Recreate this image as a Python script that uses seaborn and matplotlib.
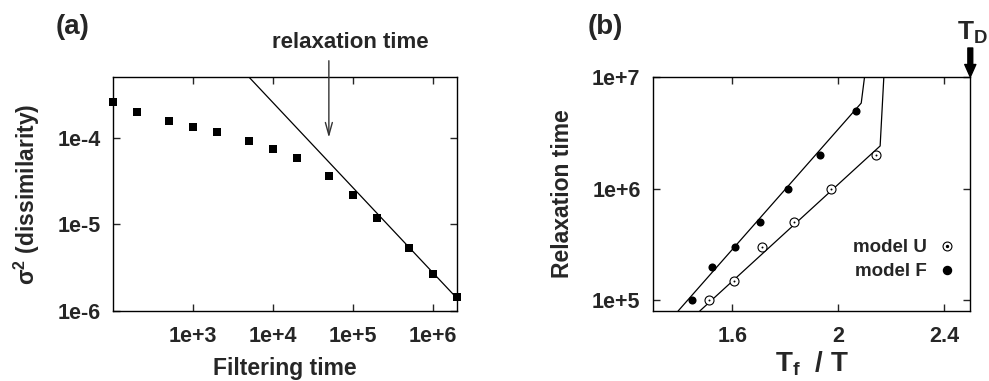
import numpy as np
import pandas as pd
import matplotlib
matplotlib.use("Agg")
import matplotlib.pyplot as plt
import seaborn as sns
from matplotlib.lines import Line2D

# ---------------- data ----------------
# panel (a)
filter_time = [1e2, 2e2, 5e2, 1e3, 2e3, 5e3, 1e4, 2e4, 5e4, 1e5, 2e5, 5e5, 1e6, 2e6]
dissimilarity = [2.55e-4, 2.0e-4, 1.54e-4, 1.31e-4, 1.15e-4, 9.1e-5, 7.3e-5, 5.8e-5,
                 3.6e-5, 2.17e-5, 1.19e-5, 5.3e-6, 2.7e-6, 1.46e-6]
fit_a_x = [5.0e3, 2.0e6]
fit_a_y = [5.0e-4, 1.4e-6]
relax_arrow_x = 5e4

# panel (b)
U_x = [1.510, 1.606, 1.714, 1.835, 1.975, 2.142]
U_y = [1e5, 1.5e5, 3e5, 5e5, 1e6, 2e6]
F_x = [1.448, 1.525, 1.611, 1.706, 1.812, 1.931, 2.069]
F_y = [1e5, 2e5, 3e5, 5e5, 1e6, 2e6, 5e6]
fitU_x = [1.477, 2.159, 2.173]
fitU_y = [8e4, 2.41e6, 1e7]
fitF_x = [1.395, 2.0875, 2.100]
fitF_y = [8e4, 5.84e6, 1e7]
T_D = 2.5

a_xticks = [1e3, 1e4, 1e5, 1e6]
a_xticklabels = ["1e+3", "1e+4", "1e+5", "1e+6"]
a_yticks = [1e-6, 1e-5, 1e-4]
a_yticklabels = ["1e-6", "1e-5", "1e-4"]
b_xticks = [1.6, 2.0, 2.4]
b_xticklabels = ["1.6", "2", "2.4"]
b_yticks = [1e5, 1e6, 1e7]
b_yticklabels = ["1e+5", "1e+6", "1e+7"]

# ---------------- style ----------------
sns.set_style("ticks")
plt.rcParams["font.family"] = ["Liberation Sans", "DejaVu Sans"]
plt.rcParams["font.weight"] = "bold"
plt.rcParams["axes.labelweight"] = "bold"
plt.rcParams["mathtext.fontset"] = "custom"
plt.rcParams["mathtext.rm"] = "Liberation Sans:bold"
plt.rcParams["mathtext.bf"] = "Liberation Sans:bold"
plt.rcParams["mathtext.it"] = "Liberation Sans:bold"
plt.rcParams["axes.edgecolor"] = "black"
plt.rcParams["axes.linewidth"] = 1.0

TICK_FS = 15.5
LABEL_FS = 16.5

fig = plt.figure(figsize=(9.89, 3.81), dpi=100)
W, H = 989, 381
axA = fig.add_axes([113 / W, 1 - 311 / H, (457 - 113) / W, (311 - 77) / H])
axB = fig.add_axes([653 / W, 1 - 311 / H, (970.3 - 653) / W, (311 - 77) / H])

dfA = pd.DataFrame({"t": filter_time, "s": dissimilarity})
dfAfit = pd.DataFrame({"t": fit_a_x, "s": fit_a_y})
sns.lineplot(data=dfAfit, x="t", y="s", ax=axA, color="black", lw=0.9, sort=False)
sns.scatterplot(data=dfA, x="t", y="s", ax=axA, marker="s", s=36, color="black",
                edgecolor="black", linewidth=0, clip_on=False, zorder=3)
axA.set_xscale("log")
axA.set_yscale("log")
axA.set_xlim(1e2, 2e6)
axA.set_ylim(1e-6, 5e-4)

dfU = pd.DataFrame({"x": U_x, "y": U_y})
dfF = pd.DataFrame({"x": F_x, "y": F_y})
sns.lineplot(data=pd.DataFrame({"x": fitU_x, "y": fitU_y}), x="x", y="y", ax=axB,
             color="black", lw=0.9, sort=False)
sns.lineplot(data=pd.DataFrame({"x": fitF_x, "y": fitF_y}), x="x", y="y", ax=axB,
             color="black", lw=0.9, sort=False)
sns.scatterplot(data=dfU, x="x", y="y", ax=axB, marker="o", s=42, facecolor="white",
                edgecolor="black", linewidth=0.8, zorder=3)
sns.scatterplot(data=dfU, x="x", y="y", ax=axB, marker="o", s=2, color="black",
                linewidth=0, zorder=4)
sns.scatterplot(data=dfF, x="x", y="y", ax=axB, marker="o", s=34, color="black",
                linewidth=0, zorder=3)
axB.set_yscale("log")
axB.set_xlim(1.3, 2.5)
axB.set_ylim(8e4, 1e7)

for ax in (axA, axB):
    ax.tick_params(axis="both", which="both", direction="in", length=5, width=1,
                   top=True, right=True, labelsize=TICK_FS)
    ax.tick_params(axis="x", pad=11)
    ax.tick_params(axis="y", pad=9)

axA.set_xticks(a_xticks, a_xticklabels, fontweight="bold")
axA.set_yticks(a_yticks, a_yticklabels, fontweight="bold")
axA.minorticks_off()
axB.set_xticks(b_xticks, b_xticklabels, fontweight="bold")
axB.set_yticks(b_yticks, b_yticklabels, fontweight="bold")
axB.minorticks_off()

axA.set_xlabel("Filtering time", fontsize=LABEL_FS, fontweight="bold")
axA.set_ylabel(r"$\mathregular{\sigma^2}$ (dissimilarity)", fontsize=LABEL_FS, fontweight="bold")
axB.set_xlabel(r"$\mathbf{T_f}$  / T", fontsize=20, fontweight="bold")
axB.set_ylabel("Relaxation time", fontsize=LABEL_FS, fontweight="bold")
axA.xaxis.set_label_coords(0.5, -0.195)
axA.yaxis.set_label_coords(-0.205, 0.5)
axB.xaxis.set_label_coords(0.5, -0.165)
axB.yaxis.set_label_coords(-0.25, 0.5)

# arrows and annotations
axA.annotate("", xy=(relax_arrow_x, 1e-4), xytext=(relax_arrow_x, 7.7e-4),
             xycoords="data", textcoords="data", annotation_clip=False,
             arrowprops=dict(arrowstyle="->,head_length=0.9,head_width=0.25",
                             color="#333333", lw=1.0, shrinkA=0, shrinkB=0))
fig.text(350 / W, 1 - 42 / H, "relaxation time", ha="center", va="center",
         fontsize=16, fontweight="bold")

axB.annotate("", xy=(T_D, 1e7), xytext=(T_D, 10 ** 7.26),
             xycoords="data", textcoords="data", annotation_clip=False,
             arrowprops=dict(width=3.5, headwidth=8, headlength=9,
                             facecolor="black", edgecolor="black", shrink=0))
fig.text(988 / W, 1 - 33 / H, r"$\mathbf{T_D}$", ha="right", va="center", fontsize=19)

fig.text(73 / W, 1 - 27 / H, "(a)", ha="center", va="center", fontsize=20, fontweight="bold")
fig.text(605 / W, 1 - 27 / H, "(b)", ha="center", va="center", fontsize=20, fontweight="bold")

# legend
hU = (Line2D([], [], ls="none", marker="o", markersize=6.4, markerfacecolor="white",
             markeredgecolor="black", markeredgewidth=0.8),
      Line2D([], [], ls="none", marker="o", markersize=1.4, color="black"))
hF = Line2D([], [], ls="none", marker="o", markersize=5.8, color="black")
axB.legend([hU, hF], ["model U", "model F"], loc="lower right",
           bbox_to_anchor=(1.01, 0.06), frameon=False, markerfirst=False,
           handlelength=1.0, handletextpad=0.6, labelspacing=0.35,
           prop={"weight": "bold", "size": 13.5})

fig.savefig("out.png", dpi=100)
